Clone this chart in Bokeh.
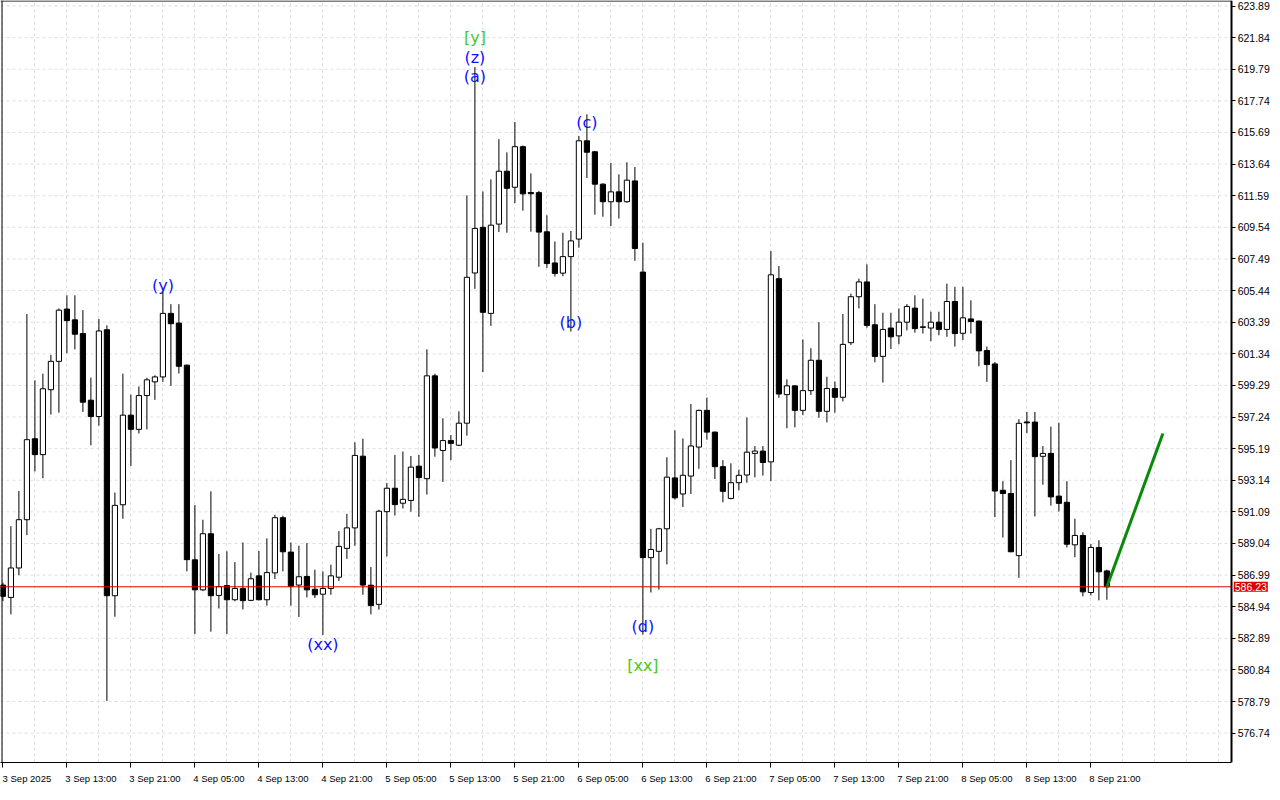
from bokeh.plotting import figure
from bokeh.models import (ColumnDataSource, FixedTicker, LinearAxis, Range1d,
                          Label, Grid, NumeralTickFormatter)
from bokeh.core.properties import value
from bokeh.embed import file_html
from bokeh.resources import INLINE

# ---------------- data (hourly bars, 3 Sep 05:00 .. 8 Sep 23:00) ----------------
opens = [586.34, 585.54, 587.45, 590.58, 595.83, 594.80, 599.01, 600.85, 604.24, 603.54,
         602.65, 598.33, 597.27, 602.90, 585.65, 591.55, 597.36, 596.44, 598.63, 599.52,
         599.84, 603.96, 603.33, 600.60, 587.98, 586.03, 589.67, 585.67, 586.31, 585.39,
         586.12, 585.35, 586.94, 585.39, 587.13, 590.71, 588.48, 586.34, 586.90, 586.07,
         585.75, 586.12, 586.85, 588.72, 590.05, 594.70, 586.33, 585.09, 591.10, 592.62,
         591.65, 591.83, 594.05, 593.24, 599.91, 595.07, 595.71, 595.41, 596.84, 606.58,
         609.54, 603.96, 609.75, 613.18, 612.14, 614.77, 611.80, 611.79, 609.25, 607.23,
         606.57, 607.64, 608.78, 615.15, 614.44, 612.34, 611.20, 611.84, 611.20, 612.55,
         606.64, 588.12, 588.53, 589.99, 593.29, 592.25, 593.41, 595.29, 597.67, 596.26,
         594.02, 591.96, 592.98, 593.48, 594.88, 595.03, 594.33, 606.21, 598.69, 599.26,
         597.67, 598.95, 600.92, 597.61, 599.09, 598.52, 602.06, 605.04, 606.00, 603.22,
         601.17, 603.01, 602.50, 603.39, 604.30, 603.05, 603.01, 603.39, 602.92, 604.73,
         602.67, 603.60, 603.46, 601.55, 600.68, 592.49, 592.28, 588.25, 596.92, 596.91,
         594.69, 594.88, 592.11, 591.71, 588.95, 589.56, 585.86, 588.78, 587.26]
highs = [586.50, 590.16, 592.44, 603.92, 599.62, 600.05, 601.27, 604.28, 605.13, 605.13,
         604.17, 599.79, 603.60, 603.18, 592.34, 600.05, 598.69, 599.22, 599.79, 599.94,
         605.40, 604.56, 604.56, 600.65, 591.53, 590.58, 592.42, 588.36, 588.53, 587.83,
         589.10, 587.15, 588.55, 589.37, 590.90, 590.84, 589.10, 588.89, 589.06, 587.34,
         587.23, 587.66, 589.84, 590.96, 595.60, 595.83, 587.51, 591.22, 592.96, 594.78,
         595.00, 594.71, 594.78, 601.63, 600.05, 597.16, 596.07, 597.61, 611.61, 619.93,
         611.86, 612.65, 615.26, 614.40, 616.37, 614.85, 613.04, 611.90, 610.32, 608.62,
         609.19, 609.31, 615.46, 616.87, 614.50, 612.40, 613.71, 612.98, 613.76, 613.45,
         608.54, 589.99, 590.05, 594.63, 596.38, 595.85, 598.08, 597.72, 598.50, 596.30,
         594.44, 594.24, 593.83, 597.21, 595.35, 595.35, 608.00, 607.03, 599.68, 599.30,
         602.27, 601.70, 603.39, 599.85, 599.54, 603.92, 605.24, 606.21, 607.14, 604.56,
         604.00, 604.00, 604.28, 604.56, 605.13, 604.92, 604.07, 604.07, 605.89, 605.68,
         605.68, 604.81, 603.50, 601.81, 600.81, 593.08, 594.44, 597.10, 597.57, 597.57,
         595.35, 596.62, 596.87, 593.08, 590.64, 589.77, 589.00, 589.25, 587.34]
lows = [585.30, 584.44, 586.98, 589.58, 593.71, 593.27, 597.40, 597.52, 601.38, 601.63,
        597.57, 595.41, 596.68, 578.83, 584.29, 590.64, 594.07, 596.17, 596.44, 598.35,
        599.52, 599.26, 600.06, 587.23, 583.17, 585.95, 583.32, 584.82, 583.17, 585.29,
        584.76, 585.30, 585.35, 585.01, 586.73, 587.23, 585.01, 584.27, 585.54, 585.50,
        583.11, 585.71, 586.60, 588.04, 588.89, 585.71, 584.44, 584.74, 588.20, 590.85,
        591.31, 591.10, 590.76, 592.21, 594.67, 593.03, 594.44, 595.35, 596.03, 605.55,
        600.15, 603.15, 609.23, 609.19, 611.11, 610.62, 609.26, 606.98, 606.91, 606.35,
        606.37, 602.78, 608.22, 612.74, 610.36, 610.23, 609.63, 610.11, 611.14, 607.37,
        583.13, 585.86, 586.05, 587.68, 591.88, 591.40, 592.25, 593.88, 595.77, 593.22,
        591.71, 591.90, 592.49, 592.98, 593.33, 593.44, 593.08, 598.48, 596.51, 596.57,
        597.36, 598.67, 597.19, 596.89, 597.52, 598.25, 601.91, 604.28, 603.03, 600.79,
        599.47, 601.65, 601.95, 602.86, 602.71, 602.65, 602.16, 602.54, 602.44, 601.81,
        602.23, 602.65, 600.53, 599.52, 590.75, 589.42, 588.47, 586.81, 596.19, 590.79,
        592.85, 591.49, 591.11, 588.78, 588.15, 585.61, 585.67, 585.35, 585.39]
closes = [585.61, 587.45, 590.58, 595.77, 594.80, 599.07, 600.85, 604.17, 603.49, 602.61,
          598.20, 597.27, 602.82, 585.65, 591.51, 597.36, 596.44, 598.63, 599.65, 599.84,
          603.96, 603.29, 600.53, 587.99, 586.03, 589.67, 585.65, 586.24, 585.39, 586.12,
          585.33, 586.75, 585.39, 587.15, 590.71, 588.50, 586.26, 586.88, 586.03, 585.71,
          586.12, 586.94, 588.85, 590.05, 594.75, 586.34, 585.01, 591.13, 592.62, 591.56,
          591.90, 593.99, 593.31, 599.91, 595.23, 595.71, 595.53, 596.84, 606.30, 609.47,
          604.03, 609.68, 613.18, 612.07, 614.77, 611.71, 611.72, 609.23, 607.19, 606.55,
          607.64, 608.66, 615.15, 614.41, 612.34, 611.20, 611.84, 611.20, 612.60, 608.17,
          588.12, 588.65, 589.99, 593.34, 592.00, 593.46, 595.36, 597.67, 596.26, 594.02,
          592.42, 592.98, 593.46, 594.96, 595.03, 594.29, 606.46, 598.73, 599.26, 597.67,
          598.95, 600.92, 597.61, 599.09, 598.52, 601.95, 605.04, 606.00, 603.18, 601.17,
          602.92, 602.44, 603.39, 604.41, 602.97, 603.09, 603.39, 602.92, 604.73, 602.65,
          603.67, 603.43, 601.53, 600.64, 592.44, 592.28, 588.50, 596.83, 596.86, 594.67,
          594.88, 592.06, 591.64, 588.99, 589.56, 585.90, 588.78, 587.20, 586.23]

time_labels = ["3 Sep 2025", "3 Sep 13:00", "3 Sep 21:00", "4 Sep 05:00", "4 Sep 13:00",
               "4 Sep 21:00", "5 Sep 05:00", "5 Sep 13:00", "5 Sep 21:00", "6 Sep 05:00",
               "6 Sep 13:00", "6 Sep 21:00", "7 Sep 05:00", "7 Sep 13:00", "7 Sep 21:00",
               "8 Sep 05:00", "8 Sep 13:00", "8 Sep 21:00"]
time_label_bars = [0, 8, 16, 24, 32, 40, 48, 56, 64, 72, 80, 88, 96, 104, 112, 120, 128, 136]

price_ticks = [576.74, 578.79, 580.84, 582.89, 584.94, 586.99, 589.04, 591.09, 593.14,
               595.19, 597.24, 599.29, 601.34, 603.39, 605.44, 607.49, 609.54, 611.59,
               613.64, 615.69, 617.74, 619.79, 621.84, 623.89]

wave_text = ["(y)", "[y]", "(z)", "(a)", "(b)", "(c)", "(xx)", "(d)", "[xx]"]
wave_bar = [20, 59, 59, 59, 71, 73, 40, 80, 80]
wave_price = [605.76, 621.83, 620.56, 619.35, 603.35, 616.31, 582.51, 583.65, 581.11]
wave_color = ["#1010ff", "#44cc22", "#1010ff", "#1010ff", "#1010ff", "#1010ff",
              "#1010ff", "#1010ff", "#44cc22"]

forecast_bar = [138, 145]
forecast_price = [586.23, 596.17]
last_price = 586.23

# ---------------- figure ----------------
FW, FH = 1272, 762
X0 = -0.3
PXB = 8.0                         # pixels per bar
X1 = X0 + FW / PXB
XR = 153.6                        # right edge of the chart area (price axis position)
Y0, Y1 = 574.835, 624.25
py = (Y1 - Y0) / FH               # price per pixel

p = figure(frame_width=FW, frame_height=FH,
           x_range=Range1d(X0, X1), y_range=Range1d(Y0, Y1),
           output_backend="svg", toolbar_location=None,
           x_axis_location=None, y_axis_location="right",
           min_border_left=0, min_border_right=0, min_border_top=0, min_border_bottom=0,
           background_fill_color="white", border_fill_color="white",
           outline_line_color=None)

p.grid.grid_line_color = None

# vertical grid (every 4 bars)
p.add_layout(Grid(dimension=0, ticker=FixedTicker(ticks=list(range(0, 154, 4))),
                  grid_line_color="#dedede", grid_line_dash="3 3", grid_line_width=1))
# horizontal grid, limited to the chart area
p.segment(x0=[X0] * len(price_ticks), x1=[XR] * len(price_ticks), y0=price_ticks, y1=price_ticks,
          line_color="#dedede", line_dash="3 3", line_width=1)

# chart border (left, top)
p.segment(x0=[X0 + 1.5 / PXB, X0], y0=[Y0, Y1 - 0.5 * py], x1=[X0 + 1.5 / PXB, XR], y1=[Y1, Y1 - 0.5 * py],
          line_color="black", line_width=1)

# right price axis, drawn at the chart's right edge
ya = p.yaxis[0]
ya.fixed_location = XR
ya.ticker = FixedTicker(ticks=price_ticks)
ya.formatter = NumeralTickFormatter(format="0.00")
ya.major_tick_out = 4
ya.major_tick_in = 0
ya.minor_tick_line_color = None
ya.axis_line_color = "black"
ya.axis_line_width = 2
ya.major_label_standoff = 2
ya.major_label_text_font = "Liberation Sans"
ya.major_label_text_font_size = "10.5px"
ya.major_label_text_color = "black"

# bottom time axis: tick marks at the bars (minor ticks), labels starting at each tick
shift = 3
ax = LinearAxis(ticker=FixedTicker(ticks=[b + shift for b in time_label_bars],
                                   minor_ticks=time_label_bars),
                bounds=(X0, XR),
                major_label_overrides={b + shift: t for b, t in zip(time_label_bars, time_labels)},
                major_tick_out=0, major_tick_in=0, major_tick_line_color=None,
                minor_tick_out=5, minor_tick_in=0, minor_tick_line_color="black",
                axis_line_color="black", axis_line_width=1,
                major_label_standoff=5,
                major_label_text_font="Liberation Sans",
                major_label_text_font_size="9.5px",
                major_label_text_color="black")
p.add_layout(ax, "below")

# candles
idx = list(range(len(opens)))
src = ColumnDataSource(dict(
    idx=idx, open=opens, high=highs, low=lows, close=closes,
    top=[max(o, c) for o, c in zip(opens, closes)],
    bottom=[min(o, c) for o, c in zip(opens, closes)],
    fill=["white" if c >= o else "black" for o, c in zip(opens, closes)],
))
p.segment(x0="idx", y0="low", x1="idx", y1="high", source=src, line_color="black", line_width=1)
p.vbar(x="idx", width=0.65, top="top", bottom="bottom", source=src,
       fill_color="fill", line_color="black", line_width=1)

# last price line (chart area only)
p.segment(x0=[X0], x1=[XR], y0=[last_price], y1=[last_price], line_color="#dd0000", line_width=1)

# forecast line
p.line(forecast_bar, forecast_price, line_color="#0a8a0a", line_width=3)

# wave labels
wsrc = ColumnDataSource(dict(x=wave_bar, y=wave_price, text=wave_text, color=wave_color))
p.text(x="x", y="y", text="text", source=wsrc, text_color="color",
       text_font=value("DejaVu Sans"), text_font_size="16px",
       text_align="center", text_baseline="middle")

# price tag on the axis
p.add_layout(Label(x=XR, y=last_price, x_offset=2,
                   text=f"{last_price:.2f}",
                   text_color="white", text_font="Liberation Sans", text_font_size="10.5px",
                   text_align="left", text_baseline="middle",
                   background_fill_color="#dd0000", padding=1))

open("out.html", "w").write(file_html(p, INLINE))
